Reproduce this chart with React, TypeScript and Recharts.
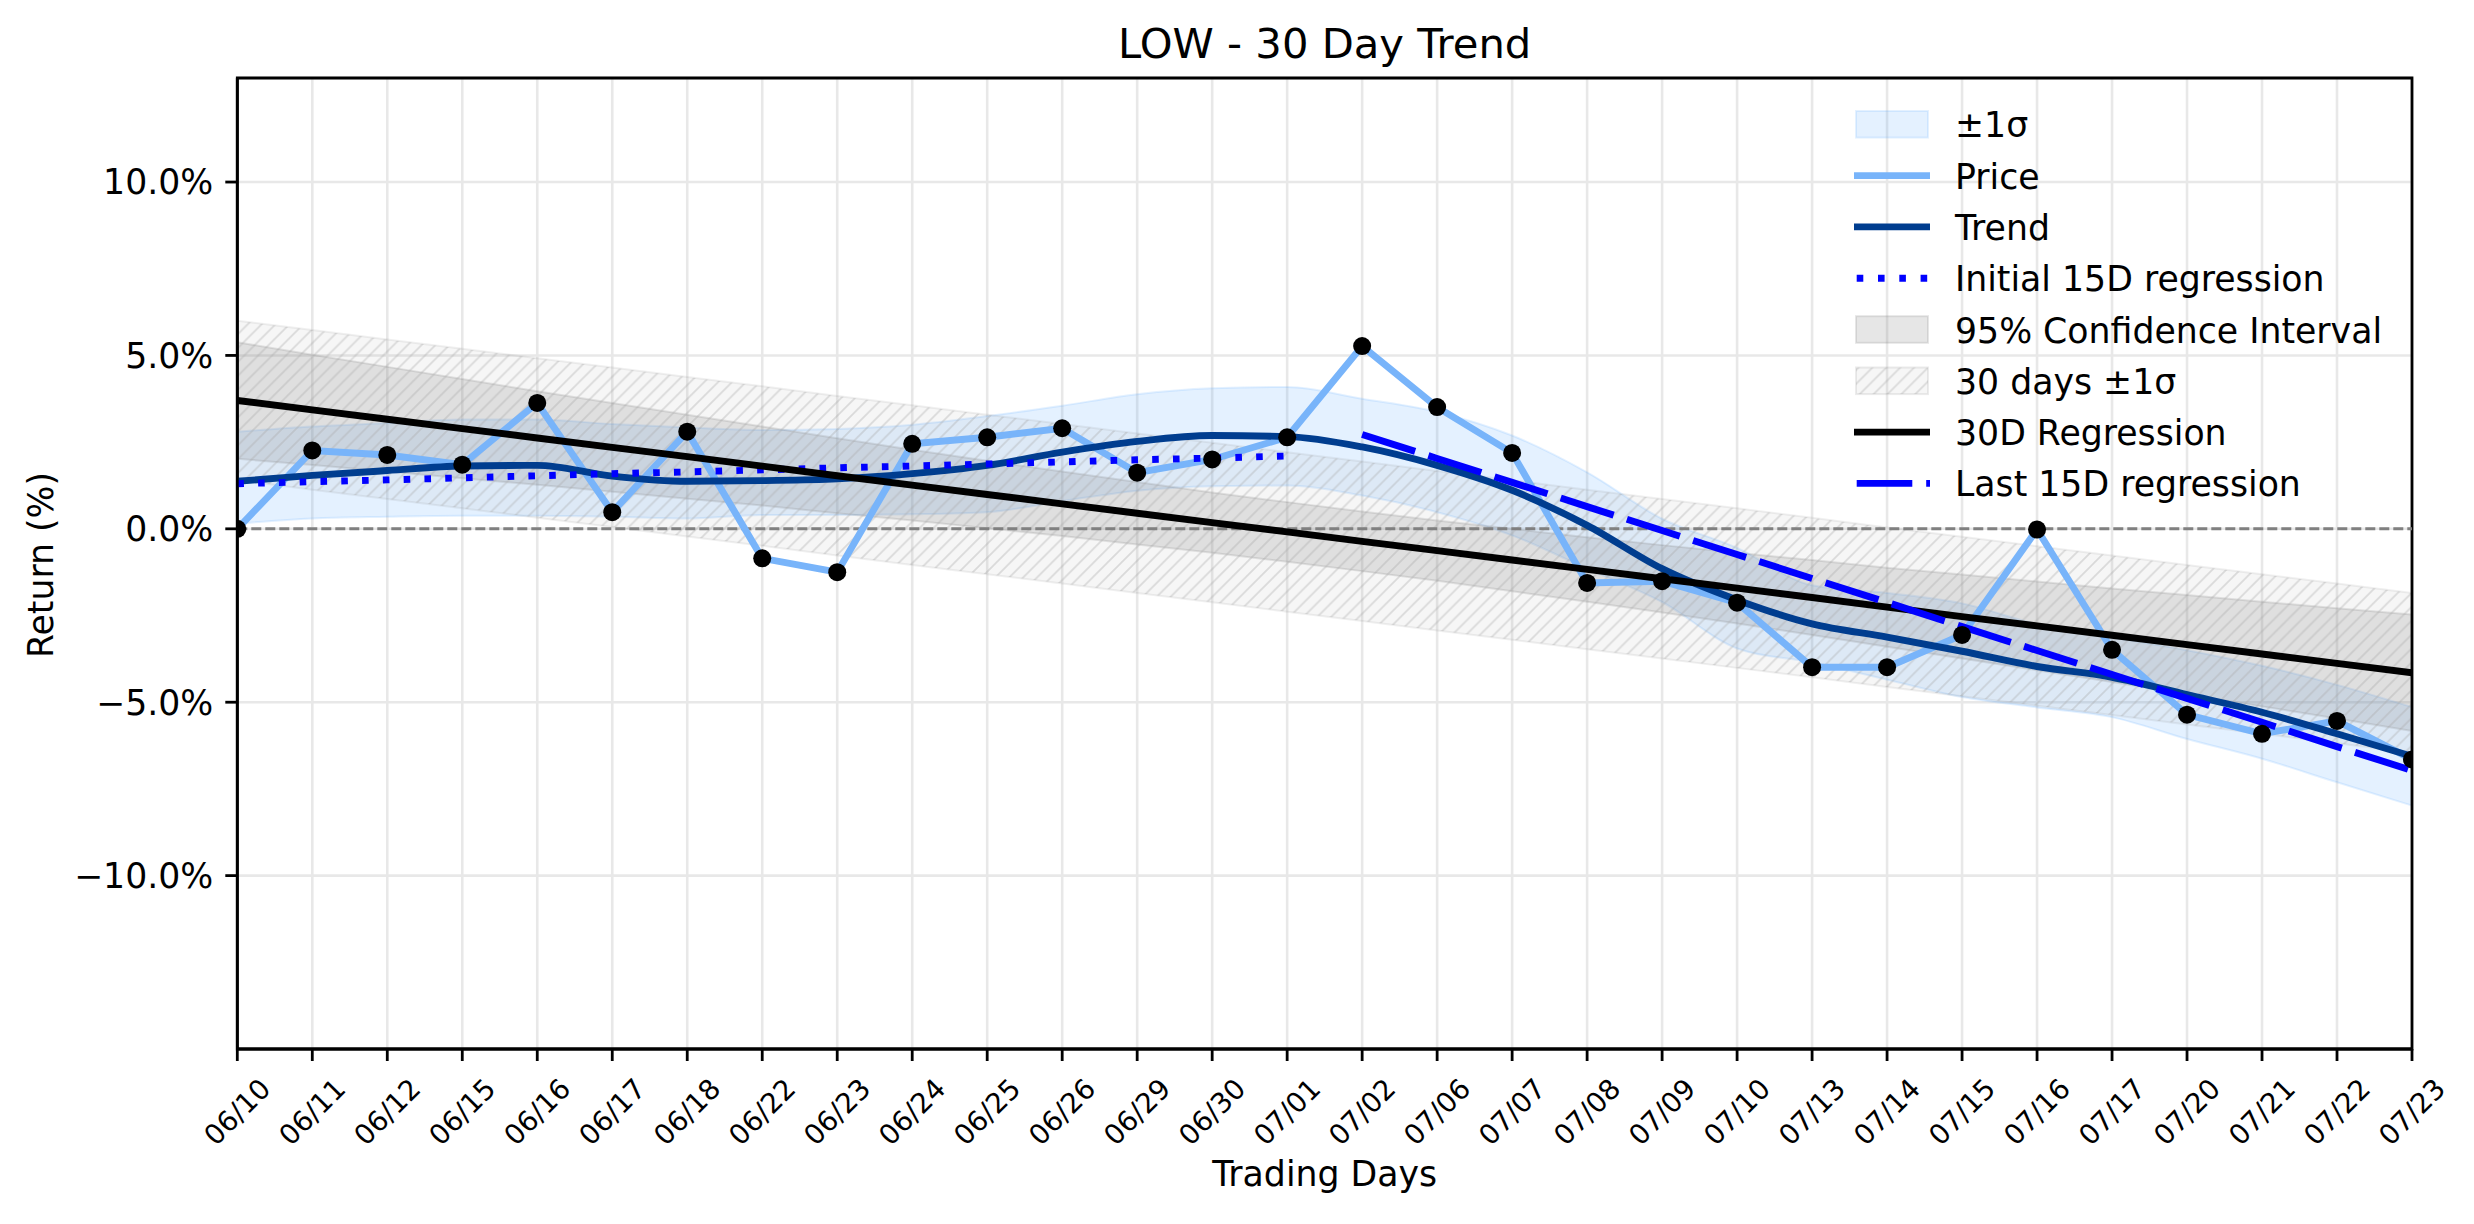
import React from "react";
import {
  ComposedChart,
  Line,
  Area,
  XAxis,
  YAxis,
  CartesianGrid,
  ReferenceLine,
  ReferenceArea,
} from "recharts";

const FONT = "'DejaVu Sans', 'Liberation Sans', sans-serif";

const W = 2458;
const H = 1216;

// trading days
const DATES = [
  "06/10", "06/11", "06/12", "06/15", "06/16", "06/17", "06/18", "06/22", "06/23", "06/24",
  "06/25", "06/26", "06/29", "06/30", "07/01", "07/02", "07/06", "07/07", "07/08", "07/09",
  "07/10", "07/13", "07/14", "07/15", "07/16", "07/17", "07/20", "07/21", "07/22", "07/23",
];

// cumulative return (%)
const PRICE = [
  0.0, 2.26, 2.13, 1.85, 3.63, 0.48, 2.8, -0.85, -1.25, 2.45,
  2.64, 2.9, 1.62, 2.0, 2.64, 5.27, 3.51, 2.19, -1.56, -1.51,
  -2.13, -3.99, -3.99, -3.06, -0.02, -3.49, -5.36, -5.91, -5.54, -6.65,
];

// smoothed trend
const TREND = [
  1.37, 1.54, 1.68, 1.81, 1.83, 1.52, 1.37, 1.39, 1.44, 1.59,
  1.83, 2.21, 2.52, 2.69, 2.66, 2.36, 1.83, 1.11, 0.1, -1.15,
  -2.05, -2.74, -3.12, -3.53, -3.97, -4.28, -4.78, -5.29, -5.91, -6.56,
];

// +-1 sigma band around trend
const SIGMA_UP = [
  2.8, 2.95, 3.05, 3.15, 3.15, 3.02, 2.92, 2.85, 2.88, 3.0,
  3.25, 3.55, 3.88, 4.05, 4.09, 3.75, 3.37, 2.69, 1.63, 0.29,
  -0.55, -1.63, -1.85, -2.15, -2.75, -3.13, -3.5, -3.95, -4.5, -5.14,
];
const SIGMA_LO = [
  0.15, 0.3, 0.35, 0.38, 0.38, 0.35, 0.3, 0.4, 0.4, 0.42,
  0.48, 0.8, 1.1, 1.23, 1.25, 0.96, 0.48, -0.19, -1.15, -2.11,
  -3.45, -3.85, -4.35, -4.85, -5.15, -5.43, -6.06, -6.63, -7.31, -7.98,
];

// 30 day regression line
const REG30 = [
  3.7, 3.43, 3.16, 2.89, 2.62, 2.35, 2.08, 1.81, 1.53, 1.26,
  0.99, 0.72, 0.45, 0.18, -0.09, -0.36, -0.63, -0.9, -1.17, -1.44,
  -1.71, -1.98, -2.26, -2.53, -2.8, -3.07, -3.34, -3.61, -3.88, -4.15,
];

// 95% confidence interval
const CI_UP = [
  5.38, 5.02, 4.67, 4.32, 3.97, 3.63, 3.29, 2.95, 2.61, 2.28,
  1.96, 1.65, 1.35, 1.05, 0.77, 0.5, 0.24, 0.0, -0.24, -0.47,
  -0.69, -0.9, -1.12, -1.32, -1.52, -1.72, -1.91, -2.1, -2.29, -2.47,
];
const CI_LO = [
  2.02, 1.84, 1.65, 1.46, 1.27, 1.07, 0.87, 0.67, 0.45, 0.24,
  0.02, -0.21, -0.45, -0.69, -0.95, -1.22, -1.5, -1.8, -2.1, -2.41,
  -2.73, -3.06, -3.4, -3.74, -4.08, -4.42, -4.77, -5.12, -5.47, -5.83,
];

// 30 days +-1 sigma
const BAND_UP = [
  6.0, 5.73, 5.46, 5.19, 4.92, 4.65, 4.38, 4.11, 3.83, 3.56,
  3.29, 3.02, 2.75, 2.48, 2.21, 1.94, 1.67, 1.4, 1.13, 0.86,
  0.59, 0.32, 0.04, -0.23, -0.5, -0.77, -1.04, -1.31, -1.58, -1.85,
];
const BAND_LO = [
  1.4, 1.13, 0.86, 0.59, 0.32, 0.05, -0.22, -0.49, -0.77, -1.04,
  -1.31, -1.58, -1.85, -2.12, -2.39, -2.66, -2.93, -3.2, -3.47, -3.74,
  -4.01, -4.28, -4.56, -4.83, -5.1, -5.37, -5.64, -5.91, -6.18, -6.45,
];

// first / last 15 day regressions
const INIT15 = [1.3, 1.36, 1.41, 1.47, 1.53, 1.59, 1.64, 1.7, 1.76, 1.81, 1.87, 1.93, 1.99, 2.04, 2.1];
const LAST15 = [2.72, 2.03, 1.34, 0.64, -0.05, -0.74, -1.43, -2.12, -2.82, -3.51, -4.2, -4.89, -5.58, -6.28, -6.97];

const Y_TICKS = [-10, -5, 0, 5, 10];
const X_TICKS = DATES.map((_, i) => i);

const PRICE_COLOR = "#78b4fa";
const TREND_COLOR = "#003d8f";
const SIGMA_COLOR = "#4da3ff";

const rows = DATES.map((date, i) => ({
  i,
  date,
  price: PRICE[i],
  dots: PRICE[i],
  trend: TREND[i],
  sigma: [SIGMA_LO[i], SIGMA_UP[i]],
  ci: [CI_LO[i], CI_UP[i]],
  band: [BAND_LO[i], BAND_UP[i]],
  reg30: REG30[i],
  init15: i < INIT15.length ? INIT15[i] : null,
  last15: i >= 15 ? LAST15[i - 15] : null,
}));

const fmtPct = (v: number) => (v < 0 ? "\u2212" : "") + Math.abs(v).toFixed(1) + "%";

const XTick = (props: any) => {
  const { x, payload } = props;
  const cy = 1104;
  return (
    <text
      x={x}
      y={cy}
      transform={`rotate(-45 ${x} ${cy})`}
      textAnchor="middle"
      dominantBaseline="central"
      fontSize={27.8}
      fontFamily={FONT}
      fill="#000"
    >
      {DATES[payload.value]}
    </text>
  );
};

type LegendItem = {
  label: string;
  kind: "patch" | "line";
  color: string;
  opacity?: number;
  dash?: string;
  hatch?: boolean;
};

const LEGEND: LegendItem[] = [
  { label: "\u00b11\u03c3", kind: "patch", color: SIGMA_COLOR, opacity: 0.15 },
  { label: "Price", kind: "line", color: PRICE_COLOR },
  { label: "Trend", kind: "line", color: TREND_COLOR },
  { label: "Initial 15D regression", kind: "line", color: "#0000ff", dash: "6.6 14.7" },
  { label: "95% Confidence Interval", kind: "patch", color: "#808080", opacity: 0.2 },
  { label: "30 days \u00b11\u03c3", kind: "patch", color: "#808080", hatch: true },
  { label: "30D Regression", kind: "line", color: "#000000" },
  { label: "Last 15D regression", kind: "line", color: "#0000ff", dash: "55.6 13.9" },
];

const HatchPattern = ({ id }: { id: string }) => (
  <pattern id={id} patternUnits="userSpaceOnUse" width={13.9} height={13.9}>
    <rect width={13.9} height={13.9} fill="#808080" fillOpacity={0.07} />
    <path
      d="M0,13.9 L13.9,0 M-3,3 L3,-3 M10.9,16.9 L16.9,10.9"
      stroke="#a8a8a8"
      strokeOpacity={0.38}
      strokeWidth={1.7}
    />
  </pattern>
);

function Overlay() {
  const lx = 1846;
  const lw = 76;
  const tx = 1947;
  return (
    <svg
      width={W}
      height={H}
      style={{ position: "absolute", left: 0, top: 0, pointerEvents: "none" }}
      fontFamily={FONT}
    >
      <defs>
        <HatchPattern id="hatchLegend" />
      </defs>
      <text x={1316.7} y={50} textAnchor="middle" fontSize={41.7} fill="#000">
        LOW - 30 Day Trend
      </text>
      <text x={1316.7} y={1178} textAnchor="middle" fontSize={34.7} fill="#000">
        Trading Days
      </text>
      <text transform="translate(45,557) rotate(-90)" textAnchor="middle" fontSize={34.7} fill="#000">
        Return (%)
      </text>
      {LEGEND.map((it, k) => {
        const cy = 116.3 + k * 51.3;
        return (
          <g key={it.label}>
            {it.kind === "patch" ? (
              <rect
                x={lx + 2}
                y={cy - 13.3}
                width={lw - 4}
                height={26.6}
                fill={it.hatch ? "url(#hatchLegend)" : it.color}
                fillOpacity={it.hatch ? 1 : it.opacity}
                stroke={it.color}
                strokeOpacity={it.hatch ? 0.15 : it.opacity}
                strokeWidth={2}
              />
            ) : (
              <line
                x1={lx + (it.dash ? 2.7 : 0)}
                x2={lx + lw}
                y1={cy}
                y2={cy}
                stroke={it.color}
                strokeWidth={6.9}
                strokeDasharray={it.dash}
              />
            )}
            <text x={tx} y={cy + 13} fontSize={34.7} fill="#000">
              {it.label}
            </text>
          </g>
        );
      })}
    </svg>
  );
}

export default function App() {
  return (
    <div style={{ position: "relative", width: W, height: H }}>
      <ComposedChart
        width={W}
        height={H}
        data={rows}
        margin={{ top: 70, right: 54, bottom: 55, left: 29 }}
      >
        <defs>
          <HatchPattern id="hatch30" />
        </defs>
        <CartesianGrid stroke="#e8e8e8" strokeWidth={2.6} />
        <XAxis
          dataKey="i"
          type="number"
          domain={[0, 29]}
          ticks={X_TICKS}
          interval={0}
          allowDataOverflow
          height={120}
          tickSize={12}
          tick={<XTick />}
          axisLine={{ stroke: "#000", strokeWidth: 2.8 }}
          tickLine={{ stroke: "#000", strokeWidth: 2.8 }}
        />
        <YAxis
          type="number"
          domain={[-15, 13]}
          ticks={Y_TICKS}
          allowDataOverflow
          width={200.3}
          tickSize={12}
          tickMargin={12}
          tickFormatter={fmtPct}
          tick={{ fontSize: 34.7, fill: "#000", fontFamily: FONT }}
          axisLine={{ stroke: "#000", strokeWidth: 2.8 }}
          tickLine={{ stroke: "#000", strokeWidth: 2.8 }}
        />
        <Area
          dataKey="sigma"
          type="monotone"
          fill={SIGMA_COLOR}
          fillOpacity={0.15}
          stroke={SIGMA_COLOR}
          strokeOpacity={0.15}
          strokeWidth={2}
          dot={false}
          activeDot={false}
          isAnimationActive={false}
        />
        <ReferenceLine y={0} stroke="#808080" strokeWidth={3} strokeDasharray="10 4" />
        <Line
          dataKey="price"
          type="linear"
          stroke={PRICE_COLOR}
          strokeWidth={6.9}
          dot={false}
          activeDot={false}
          isAnimationActive={false}
        />
        <Line
          dataKey="trend"
          type="monotone"
          stroke={TREND_COLOR}
          strokeWidth={6.9}
          dot={false}
          activeDot={false}
          isAnimationActive={false}
        />
        <Line
          dataKey="init15"
          type="linear"
          stroke="#0000ff"
          strokeWidth={6.9}
          strokeDasharray="6.6 14.2"
          dot={false}
          activeDot={false}
          isAnimationActive={false}
        />
        <Area
          dataKey="ci"
          type="linear"
          fill="#808080"
          fillOpacity={0.2}
          stroke="#808080"
          strokeOpacity={0.2}
          strokeWidth={2}
          dot={false}
          activeDot={false}
          isAnimationActive={false}
        />
        <Area
          dataKey="band"
          type="linear"
          fill="url(#hatch30)"
          fillOpacity={1}
          stroke="#808080"
          strokeOpacity={0.12}
          strokeWidth={2}
          dot={false}
          activeDot={false}
          isAnimationActive={false}
        />
        <Line
          dataKey="reg30"
          type="linear"
          stroke="#000000"
          strokeWidth={6.9}
          dot={false}
          activeDot={false}
          isAnimationActive={false}
        />
        <Line
          dataKey="last15"
          type="linear"
          stroke="#0000ff"
          strokeWidth={6.9}
          strokeDasharray="55.6 13.9"
          dot={false}
          activeDot={false}
          isAnimationActive={false}
        />
        <Line
          dataKey="dots"
          type="linear"
          stroke="none"
          dot={{ r: 9, fill: "#000", stroke: "none" }}
          activeDot={false}
          isAnimationActive={false}
        />
        <ReferenceArea
          x1={0}
          x2={29}
          y1={-15}
          y2={13}
          fill="none"
          fillOpacity={0}
          stroke="#000"
          strokeWidth={2.8}
        />
      </ComposedChart>
      <Overlay />
    </div>
  );
}
